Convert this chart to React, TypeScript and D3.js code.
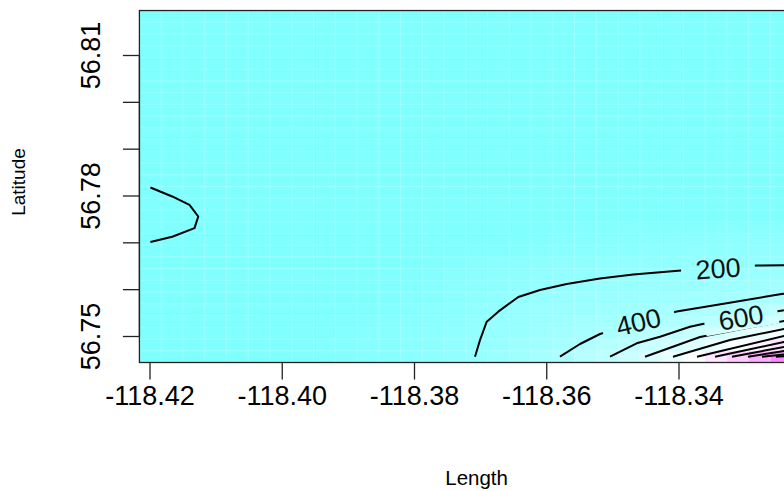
import React from "react";
import * as d3 from "d3";

// ---- axis ticks ----
const lonTicks = [-118.42, -118.4, -118.38, -118.36, -118.34];
const latTicks = [56.75, 56.76, 56.77, 56.78, 56.79, 56.8, 56.81];
const latLabelTicks = [56.75, 56.78, 56.81];

// ---- raster grid (image cells) ----
const lonEdgeMin = -118.4216;
const lonStep = 0.00329;
const nCols = 31;
const latEdgeMin = 56.74445;
const latStep = 0.002505;
const nRows = 30;

// z values per cell, bottom row first (rows above these are at the minimum)
const zRow0 = [0, 0, 0, 0, 0, 0, 5, 10, 20, 35, 55, 80, 105, 135, 165, 205, 250, 300, 355, 420, 500, 590, 710, 840, 1000, 1180, 1420, 1680, 1960, 2300];
const zRow1 = [0, 0, 0, 0, 0, 0, 5, 10, 20, 35, 55, 75, 100, 125, 160, 195, 235, 275, 315, 360, 430, 500, 580, 680, 780, 900, 1020, 1150, 1310, 1500];
const zRow2 = [0, 0, 0, 0, 0, 0, 0, 5, 15, 30, 50, 70, 95, 120, 150, 185, 215, 250, 285, 320, 370, 410, 470, 540, 610, 690, 790, 880, 990, 1100];
const zRow3 = [0, 0, 0, 0, 0, 0, 0, 0, 5, 15, 30, 50, 75, 105, 140, 180, 210, 235, 260, 285, 315, 340, 365, 395, 440, 500, 570, 640, 710, 790];
const zRow4 = [0, 0, 0, 0, 0, 0, 0, 0, 0, 5, 15, 30, 55, 85, 120, 165, 195, 220, 240, 255, 270, 285, 300, 335, 370, 410, 450, 500, 550, 610];
const zRow5 = [0, 0, 0, 0, 0, 0, 0, 0, 0, 0, 5, 15, 35, 65, 100, 140, 165, 185, 210, 225, 240, 250, 260, 275, 290, 305, 320, 340, 360, 390];
const zRow6 = [0, 0, 0, 0, 0, 0, 0, 0, 0, 0, 0, 10, 25, 50, 85, 120, 140, 160, 180, 205, 215, 225, 235, 245, 255, 265, 275, 285, 300, 320];
const zRow7 = [0, 0, 0, 0, 0, 0, 0, 0, 0, 0, 0, 0, 10, 35, 65, 100, 115, 130, 145, 160, 170, 185, 195, 205, 212, 220, 228, 236, 245, 255];
const zRow8 = [0, 0, 0, 0, 0, 0, 0, 0, 0, 0, 0, 0, 0, 10, 40, 70, 85, 100, 115, 130, 140, 150, 160, 170, 176, 182, 186, 190, 194, 198];
const zRow9 = [0, 0, 0, 0, 0, 0, 0, 0, 0, 0, 0, 0, 0, 0, 10, 30, 45, 60, 75, 90, 100, 110, 120, 130, 138, 145, 150, 155, 160, 165];
const zRow10 = [0, 0, 0, 0, 0, 0, 0, 0, 0, 0, 0, 0, 0, 0, 0, 0, 10, 20, 35, 50, 60, 70, 80, 90, 100, 108, 115, 120, 125, 130];
const zRow11 = [0, 0, 0, 0, 0, 0, 0, 0, 0, 0, 0, 0, 0, 0, 0, 0, 0, 0, 10, 20, 30, 40, 50, 58, 65, 72, 78, 84, 90, 95];
const zRows = [zRow0, zRow1, zRow2, zRow3, zRow4, zRow5, zRow6, zRow7, zRow8, zRow9, zRow10, zRow11];
const zLimits = [0, 2400];

// ---- contour lines (lon, lat) ----
const contourV: [number, number][] = [
  [-118.41994, 56.78182], [-118.41664, 56.7799], [-118.41403, 56.7781], [-118.4127, 56.77562],
  [-118.41327, 56.77313], [-118.41664, 56.77129], [-118.41994, 56.77018],
];
const contour200: [number, number][] = [
  [-118.37085, 56.74569], [-118.37009, 56.74925], [-118.36908, 56.75316], [-118.36733, 56.7553],
  [-118.3643, 56.75844], [-118.36102, 56.75993], [-118.35698, 56.76121], [-118.35195, 56.76239],
  [-118.34691, 56.76324], [-118.3397, 56.76409], [-118.33395, 56.76463], [-118.3282, 56.76516],
  [-118.3217, 56.76527],
];
const contour400: [number, number][] = [
  [-118.358, 56.74569], [-118.35497, 56.7484], [-118.35195, 56.75053], [-118.3462, 56.75295],
  [-118.34035, 56.75534], [-118.33279, 56.75709], [-118.32473, 56.75901], [-118.3217, 56.75972],
];
const contour600: [number, number][] = [
  [-118.35043, 56.74569], [-118.3464, 56.74855], [-118.34287, 56.74996], [-118.33834, 56.75209],
  [-118.33486, 56.75316], [-118.33062, 56.75406], [-118.32533, 56.75534], [-118.3217, 56.75619],
];
const contour800: [number, number][] = [[-118.34514, 56.74569], [-118.33682, 56.74989], [-118.32412, 56.75331], [-118.3217, 56.75395]];
const contour1000: [number, number][] = [[-118.34091, 56.74569], [-118.33229, 56.74925], [-118.32412, 56.7516], [-118.3217, 56.75224]];
const contour1200: [number, number][] = [[-118.33728, 56.74569], [-118.32412, 56.75011], [-118.3217, 56.75085]];
const contour1400: [number, number][] = [[-118.33455, 56.74569], [-118.32412, 56.74883], [-118.3217, 56.74947]];
const contour1600: [number, number][] = [[-118.33198, 56.74569], [-118.32412, 56.74776], [-118.3217, 56.74829]];
const contour1800: [number, number][] = [[-118.32957, 56.74569], [-118.32412, 56.7469], [-118.3217, 56.74733]];
const contour2000: [number, number][] = [[-118.32745, 56.74569], [-118.3217, 56.74648]];
const contour2200: [number, number][] = [[-118.32533, 56.74569], [-118.3217, 56.74594]];
const contourLines = [contourV, contour200, contour400, contour600, contour800, contour1000, contour1200, contour1400, contour1600, contour1800, contour2000, contour2200];

const labelTexts = ["200", "400", "600"];
const labelLon = [-118.3341, -118.34612, -118.33062];
const labelLat = [56.76441, 56.75299, 56.75395];
const labelLine = [contour200, contour400, contour600];

const W = 784;
const H = 491;
const FONT = "'Liberation Sans', Arial, Helvetica, sans-serif";

function cmColor(v: number) {
  let t = (v - zLimits[0]) / (zLimits[1] - zLimits[0]);
  t = Math.max(0, Math.min(1, t));
  if (t < 0.5) {
    const s = 0.5 * (1 - 2 * t);
    return d3.rgb(255 * (1 - s), 255, 255).toString();
  }
  const s = t - 0.5;
  return d3.rgb(255, 255 * (1 - s), 255).toString();
}

export default function App() {
  const x = d3.scaleLinear().domain([-118.42, -118.34]).range([150, 679]);
  const y = d3.scaleLinear().domain([56.75, 56.81]).range([336.5, 55.5]);

  const left = x(lonEdgeMin);
  const right = x(lonEdgeMin + nCols * lonStep);
  const bottom = y(latEdgeMin);
  const top = y(latEdgeMin + nRows * latStep);

  const cells: JSX.Element[] = [];
  for (let r = 0; r < nRows; r++) {
    const row = zRows[r];
    for (let c = 0; c < nCols; c++) {
      const z = row ? (row[c] ?? row[row.length - 1]) : 0;
      const x0 = x(lonEdgeMin + c * lonStep);
      const x1 = x(lonEdgeMin + (c + 1) * lonStep);
      const y0 = y(latEdgeMin + (r + 1) * latStep);
      const y1 = y(latEdgeMin + r * latStep);
      cells.push(
        <rect key={`c${r}-${c}`} x={x0} y={y0} width={x1 - x0 + 0.6} height={y1 - y0 + 0.6} fill={cmColor(z)} />
      );
    }
  }
  const seams: JSX.Element[] = [];
  for (let c = 1; c < nCols; c++) {
    const xx = x(lonEdgeMin + c * lonStep);
    seams.push(<line key={`sv${c}`} x1={xx} x2={xx} y1={top} y2={bottom} stroke="#fff" strokeOpacity={0.2} strokeWidth={1} />);
  }
  for (let r = 1; r < nRows; r++) {
    const yy = y(latEdgeMin + r * latStep);
    seams.push(<line key={`sh${r}`} x1={left} x2={right} y1={yy} y2={yy} stroke="#fff" strokeOpacity={0.2} strokeWidth={1} />);
  }

  const line = d3
    .line<[number, number]>()
    .x((d) => x(d[0]))
    .y((d) => y(d[1]));

  const labels = labelTexts.map((txt, i) => {
    const px = x(labelLon[i]);
    const py = y(labelLat[i]);
    const pts = labelLine[i].map((p) => [x(p[0]), y(p[1])]);
    let best = 0;
    let bd = Infinity;
    for (let k = 0; k < pts.length - 1; k++) {
      const mx = (pts[k][0] + pts[k + 1][0]) / 2;
      const my = (pts[k][1] + pts[k + 1][1]) / 2;
      const dd = (mx - px) ** 2 + (my - py) ** 2;
      if (dd < bd) {
        bd = dd;
        best = k;
      }
    }
    const a = pts[best];
    const b = pts[best + 2] ?? pts[best + 1];
    const p0 = best > 0 ? pts[best - 1] : a;
    const ang = (Math.atan2(b[1] - p0[1], b[0] - p0[0]) * 180) / Math.PI;
    return { txt, px, py, ang };
  });

  return (
    <svg width={W} height={H} style={{ position: "absolute", left: 0, top: 0, background: "#fff" }} fontFamily={FONT}>
      <defs>
        <clipPath id="plotClip">
          <rect x={left} y={top} width={right - left} height={bottom - top} />
        </clipPath>
        <mask id="labelMask" maskUnits="userSpaceOnUse" x={0} y={0} width={W} height={H}>
          <rect x={0} y={0} width={W} height={H} fill="#fff" />
          {labels.map((l, i) => (
            <rect key={i} x={-37} y={-12} width={74} height={24} fill="#000" transform={`translate(${l.px},${l.py}) rotate(${l.ang})`} />
          ))}
        </mask>
      </defs>
      <g clipPath="url(#plotClip)">
        {cells}
        {seams}
        <g mask="url(#labelMask)">
          {contourLines.map((pts, i) => (
            <path key={i} d={line(pts) ?? ""} fill="none" stroke="#000" strokeWidth={2} strokeLinejoin="round" />
          ))}
        </g>
        {labels.map((l, i) => (
          <text key={i} x={0} y={0} transform={`translate(${l.px},${l.py}) rotate(${l.ang})`} textAnchor="middle" dominantBaseline="central" fontSize={27} fill="#111">
            {l.txt}
          </text>
        ))}
      </g>
      <rect x={left} y={top} width={right - left} height={bottom - top} fill="none" stroke="#222" strokeWidth={1.3} />
      {/* y axis */}
      <line x1={left} x2={left} y1={y(latTicks[0])} y2={y(latTicks[latTicks.length - 1])} stroke="#222" strokeWidth={1.3} />
      {latTicks.map((v) => (
        <line key={`yt${v}`} x1={left - 16.5} x2={left} y1={y(v)} y2={y(v)} stroke="#222" strokeWidth={1.3} />
      ))}
      {latLabelTicks.map((v) => (
        <text key={`yl${v}`} transform={`translate(100,${y(v)}) rotate(-90)`} textAnchor="middle" fontSize={27} fill="#000">
          {v.toFixed(2)}
        </text>
      ))}
      {/* x axis */}
      {lonTicks.map((v) => (
        <line key={`xt${v}`} x1={x(v)} x2={x(v)} y1={bottom} y2={bottom + 17} stroke="#222" strokeWidth={1.3} />
      ))}
      {lonTicks.map((v) => (
        <text key={`xl${v}`} x={x(v)} y={405} textAnchor="middle" fontSize={27} fill="#000">
          {v.toFixed(2)}
        </text>
      ))}
      <text x={476.6} y={485} textAnchor="middle" fontSize={20.5} fill="#000">
        Length
      </text>
      <text transform={`translate(25,182) rotate(-90)`} textAnchor="middle" fontSize={19} fill="#000">
        Latitude
      </text>
    </svg>
  );
}
